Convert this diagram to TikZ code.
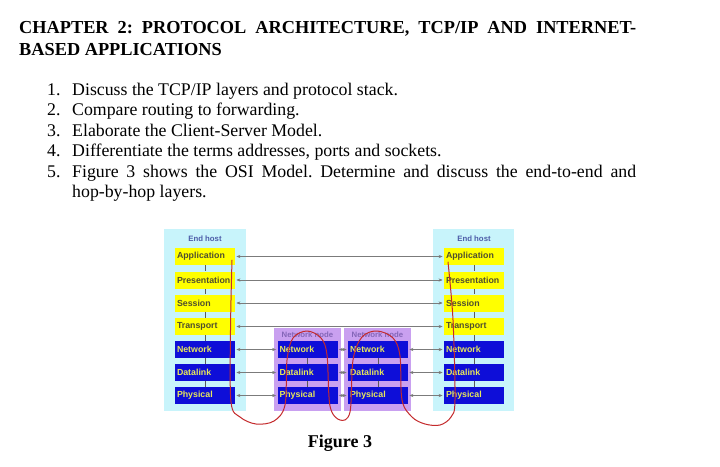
\documentclass[tikz,border=0pt]{standalone}
\usepackage{fontspec}
\setmainfont{Liberation Serif}
\newfontfamily\figsans{Liberation Sans}
\usetikzlibrary{arrows.meta}
\frenchspacing
\definecolor{hostcyan}{HTML}{C8F4FB}
\definecolor{nodepurple}{HTML}{C9A0F0}
\definecolor{layyellow}{HTML}{FFFF00}
\definecolor{layblue}{HTML}{0E0ED8}
\definecolor{yeltext}{HTML}{4E4E30}
\definecolor{bluetext}{HTML}{E8E85A}
\definecolor{hostlbl}{HTML}{4C5CA8}
\definecolor{nnlbl}{HTML}{8466B8}
\definecolor{penred}{HTML}{C42A2C}
\definecolor{linkgray}{HTML}{5A5A5A}
\tikzset{
  lay/.style={minimum height=17pt, text width=56pt, inner xsep=2pt, inner ysep=0pt,
              align=left, font=\figsans\fontsize{8.8}{9}\bfseries\selectfont},
  upper/.style={lay, fill=layyellow, text=yeltext},
  lower/.style={lay, fill=layblue, text=bluetext},
  hostbox/.style={fill=hostcyan, inner sep=0pt},
  nnbox/.style={fill=nodepurple, inner sep=0pt},
  boxlabel/.style={font=\figsans\fontsize{7.8}{9}\bfseries\selectfont, inner sep=0pt},
  stackline/.style={draw=linkgray, line width=0.8pt},
  peerarrow/.style={draw=linkgray!80, line width=0.6pt,
     {Stealth[length=4pt,width=3.2pt,fill=black!85]}-{Stealth[length=4pt,width=3.2pt,fill=black!85]},
     shorten <=1.2pt, shorten >=1.2pt},
  penline/.style={draw=penred, line width=1pt, line cap=round, line join=round},
  bodytext/.style={inner sep=0pt, anchor=base west, font=\fontsize{17.8}{20.5}\selectfont},
}
\begin{document}
\begin{tikzpicture}[x=1pt, y=-1pt]
\useasboundingbox[fill=white] (0,0) rectangle (720,466);

% ---- Title ----
\node[inner sep=0pt, anchor=base west, font=\fontsize{18.3}{22}\selectfont\bfseries] (title) at (19,33)
  {\parbox[t]{617pt}{CHAPTER 2: PROTOCOL ARCHITECTURE, TCP/IP AND INTERNET-\linebreak BASED APPLICATIONS}};

% ---- Questions ----
\node[bodytext] (n1) at (47,95) {1.};
\node[bodytext] (q1) at (72,95) {Discuss the TCP/IP layers and protocol stack.};
\node[bodytext] (n2) at (47,115.5) {2.};
\node[bodytext] (q2) at (72,115.5) {Compare routing to forwarding.};
\node[bodytext] (n3) at (47,136) {3.};
\node[bodytext] (q3) at (72,136) {Elaborate the Client-Server Model.};
\node[bodytext] (n4) at (47,156.5) {4.};
\node[bodytext] (q4) at (72,156.5) {Differentiate the terms addresses, ports and sockets.};
\node[bodytext] (n5) at (47,177) {5.};
\node[bodytext] (q5) at (72,177) {\parbox[t]{564pt}{Figure 3 shows the OSI Model. Determine and discuss the end-to-end and\linebreak hop-by-hop layers.}};

% ---- Figure backgrounds ----
\node[hostbox, minimum width=82pt, minimum height=182pt] (hostL) at (205,320) {};
\node[hostbox, minimum width=81pt, minimum height=182pt] (hostR) at (473.5,320) {};
\node[nnbox, minimum width=67pt, minimum height=83pt] (nodeA) at (307.5,369.5) {};
\node[nnbox, minimum width=67pt, minimum height=83pt] (nodeB) at (377.5,369.5) {};

\node[boxlabel, text=hostlbl] (hostLlbl) at (205,239) {End host};
\node[boxlabel, text=hostlbl] (hostRlbl) at (474,239) {End host};
\node[boxlabel, text=nnlbl] (nodeAlbl) at (307.5,335) {Network node};
\node[boxlabel, text=nnlbl] (nodeBlbl) at (377.5,335) {Network node};

% ---- Layers: left end host ----
\node[upper] (L1) at (205,256.5) {Application};
\node[upper] (L2) at (205,280) {Presentation};
\node[upper] (L3) at (205,303) {Session};
\node[upper] (L4) at (205,326.5) {Transport};
\node[lower] (L5) at (205,349.5) {Network};
\node[lower] (L6) at (205,372.5) {Datalink};
\node[lower] (L7) at (205,395.5) {Physical};
% ---- right end host ----
\node[upper] (R1) at (474,256.5) {Application};
\node[upper] (R2) at (474,280) {Presentation};
\node[upper] (R3) at (474,303) {Session};
\node[upper] (R4) at (474,326.5) {Transport};
\node[lower] (R5) at (474,349.5) {Network};
\node[lower] (R6) at (474,372.5) {Datalink};
\node[lower] (R7) at (474,395.5) {Physical};
% ---- network nodes ----
\node[lower] (A5) at (307.5,349.5) {Network};
\node[lower] (A6) at (307.5,372.5) {Datalink};
\node[lower] (A7) at (307.5,395.5) {Physical};
\node[lower] (B5) at (378,349.5) {Network};
\node[lower] (B6) at (378,372.5) {Datalink};
\node[lower] (B7) at (378,395.5) {Physical};

% ---- stack connectors ----
\foreach \s in {L,R} {
  \foreach \i/\j in {1/2,2/3,3/4,4/5,5/6,6/7} {
    \draw[stackline] (\s\i.south) -- (\s\j.north);
  }
}
\foreach \s in {A,B} {
  \foreach \i/\j in {5/6,6/7} {
    \draw[stackline] (\s\i.south) -- (\s\j.north);
  }
}

% ---- peer arrows ----
\foreach \i in {1,2,3,4} { \draw[peerarrow] (L\i.east) -- (R\i.west); }
\foreach \i in {5,6,7} {
  \draw[peerarrow] (L\i.east) -- (A\i.west);
  \draw[peerarrow] (A\i.east) -- (B\i.west);
  \draw[peerarrow] (B\i.east) -- (R\i.west);
}

% ---- hand-drawn red path ----
\draw[penline] plot[smooth, tension=0.55] coordinates {
  (232,260) (230.5,330) (231,402) (240,417) (256,424) (274,421) (285,405)
  (287,360) (293,338) (307,331) (321,338) (327,355) (330,406) (340,420) (350,412)
  (353,360) (362,337) (377,331) (393,338) (400,356) (402,400) (412,417) (425,424)
  (440,425) (451,417) (455,400) (453,320) (448,262)
};

% ---- caption ----
\node[inner sep=0pt, anchor=base, font=\fontsize{18}{20}\selectfont\bfseries] (caption) at (340,447) {Figure 3};
\end{tikzpicture}
\end{document}
